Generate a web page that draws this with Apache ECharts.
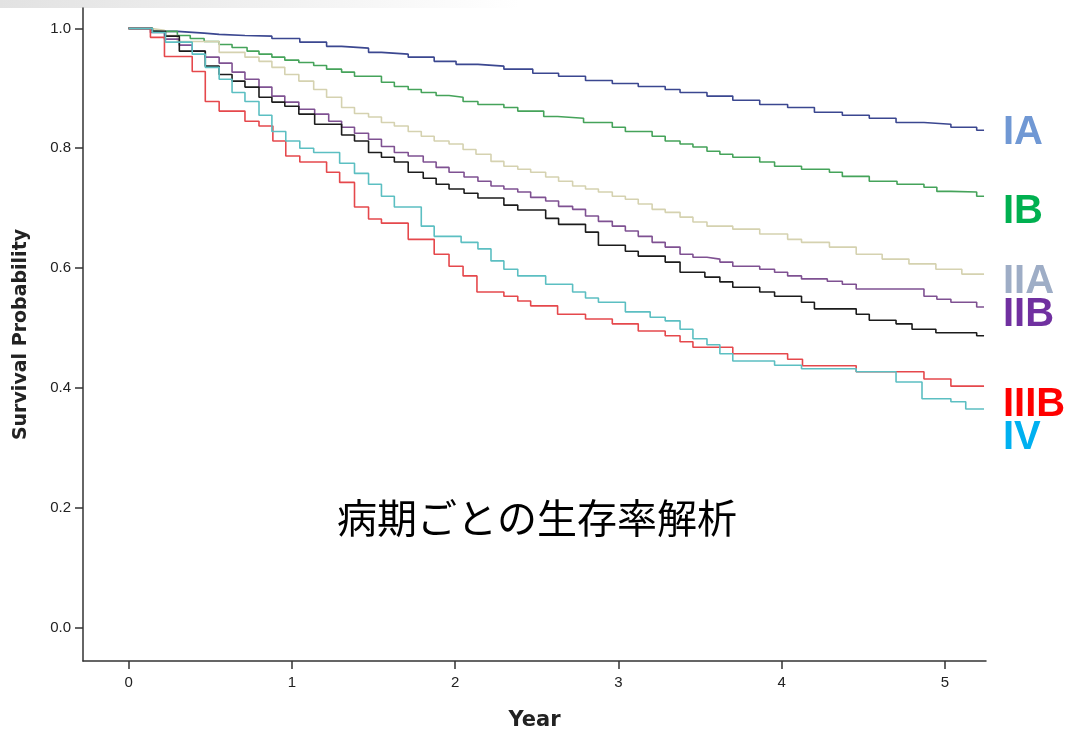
<!DOCTYPE html>
<html>
<head>
<meta charset="utf-8">
<script src="https://cdn.jsdelivr.net/npm/echarts@6/dist/echarts.min.js"></script>
<style>
  html, body { margin: 0; padding: 0; background: #fff; }
  #chart { width: 1067px; height: 736px; }
</style>
</head>
<body>
<div id="chart"></div>
<script>
// 刻度
const xTicks = [0, 1, 2, 3, 4, 5];
const yTicks = [0, 0.2, 0.4, 0.6, 0.8, 1.0];
const followUpEnd = 5.24;

// 各病期の生存曲線 [年, 生存率]
const stageIA = [[0,1],[0.146,0.995],[0.299,0.992],[0.463,0.99],[0.555,0.988],[0.713,0.987],[0.878,0.983],[1.049,0.977],[1.213,0.97],[1.305,0.967],[1.47,0.96],[1.549,0.957],[1.713,0.952],[1.872,0.945],[2.006,0.94],[2.14,0.937],[2.299,0.932],[2.476,0.925],[2.634,0.92],[2.799,0.913],[2.963,0.908],[3.122,0.903],[3.287,0.898],[3.378,0.893],[3.543,0.887],[3.701,0.88],[3.866,0.873],[4.037,0.868],[4.201,0.86],[4.372,0.855],[4.537,0.85],[4.701,0.843],[4.872,0.84],[5.037,0.835],[5.195,0.83]];
const stageIB = [[0,1],[0.146,0.995],[0.299,0.988],[0.378,0.983],[0.463,0.978],[0.555,0.973],[0.634,0.968],[0.726,0.962],[0.799,0.957],[0.878,0.952],[0.957,0.947],[1.043,0.943],[1.134,0.938],[1.213,0.932],[1.305,0.927],[1.384,0.92],[1.549,0.91],[1.628,0.903],[1.713,0.898],[1.793,0.893],[1.884,0.888],[1.963,0.885],[2.049,0.878],[2.14,0.873],[2.299,0.868],[2.384,0.862],[2.543,0.853],[2.628,0.85],[2.787,0.843],[2.963,0.835],[3.043,0.828],[3.207,0.82],[3.287,0.812],[3.378,0.807],[3.457,0.802],[3.543,0.795],[3.622,0.79],[3.701,0.785],[3.866,0.777],[3.957,0.77],[4.122,0.765],[4.293,0.76],[4.372,0.753],[4.537,0.745],[4.707,0.74],[4.872,0.735],[4.951,0.728],[5.037,0.727],[5.195,0.72]];
const stageIIA = [[0,1],[0.134,0.997],[0.22,0.988],[0.299,0.978],[0.555,0.96],[0.713,0.952],[0.799,0.945],[0.878,0.935],[0.957,0.923],[1.043,0.912],[1.134,0.898],[1.213,0.885],[1.305,0.868],[1.384,0.858],[1.47,0.852],[1.549,0.843],[1.628,0.837],[1.713,0.828],[1.793,0.82],[1.872,0.812],[1.963,0.807],[2.049,0.798],[2.128,0.79],[2.22,0.778],[2.299,0.77],[2.384,0.765],[2.463,0.76],[2.555,0.752],[2.634,0.745],[2.72,0.737],[2.799,0.732],[2.878,0.727],[2.963,0.72],[3.043,0.715],[3.122,0.707],[3.207,0.698],[3.287,0.693],[3.378,0.685],[3.457,0.677],[3.543,0.67],[3.701,0.665],[3.866,0.657],[4.037,0.648],[4.122,0.643],[4.293,0.635],[4.457,0.623],[4.616,0.615],[4.78,0.607],[4.945,0.598],[5.104,0.59]];
const stageIIB = [[0,1],[0.134,0.993],[0.22,0.982],[0.311,0.972],[0.39,0.962],[0.47,0.952],[0.555,0.942],[0.634,0.927],[0.713,0.915],[0.799,0.902],[0.878,0.887],[0.957,0.877],[1.043,0.865],[1.14,0.857],[1.226,0.845],[1.305,0.835],[1.384,0.825],[1.47,0.815],[1.549,0.803],[1.628,0.793],[1.713,0.787],[1.805,0.777],[1.884,0.768],[1.963,0.76],[2.055,0.752],[2.14,0.745],[2.22,0.737],[2.299,0.732],[2.384,0.727],[2.463,0.718],[2.555,0.712],[2.634,0.703],[2.72,0.698],[2.799,0.687],[2.878,0.678],[2.963,0.67],[3.043,0.662],[3.122,0.653],[3.207,0.643],[3.287,0.635],[3.378,0.623],[3.457,0.618],[3.543,0.615],[3.622,0.61],[3.701,0.603],[3.866,0.598],[3.957,0.593],[4.037,0.587],[4.122,0.582],[4.28,0.578],[4.372,0.573],[4.457,0.565],[4.872,0.553],[4.951,0.548],[5.037,0.543],[5.195,0.535]];
const stageIIIA = [[0,1],[0.146,0.995],[0.226,0.987],[0.311,0.962],[0.47,0.937],[0.555,0.923],[0.634,0.912],[0.713,0.902],[0.799,0.885],[0.878,0.877],[0.957,0.87],[1.043,0.857],[1.14,0.84],[1.305,0.822],[1.384,0.812],[1.47,0.793],[1.549,0.785],[1.628,0.777],[1.713,0.76],[1.805,0.75],[1.884,0.74],[1.963,0.732],[2.055,0.725],[2.14,0.717],[2.299,0.705],[2.384,0.697],[2.555,0.683],[2.634,0.673],[2.799,0.66],[2.878,0.638],[3.043,0.628],[3.122,0.62],[3.287,0.61],[3.378,0.593],[3.53,0.585],[3.622,0.577],[3.701,0.568],[3.866,0.56],[3.957,0.553],[4.122,0.543],[4.201,0.532],[4.457,0.523],[4.537,0.513],[4.701,0.507],[4.799,0.498],[4.945,0.492],[5.195,0.487]];
const stageIIIB = [[0,1],[0.134,0.985],[0.22,0.953],[0.39,0.928],[0.47,0.878],[0.555,0.862],[0.713,0.845],[0.799,0.837],[0.884,0.812],[0.963,0.787],[1.049,0.777],[1.213,0.76],[1.293,0.743],[1.384,0.702],[1.47,0.682],[1.549,0.675],[1.713,0.648],[1.872,0.623],[1.963,0.603],[2.049,0.587],[2.134,0.56],[2.299,0.553],[2.384,0.545],[2.463,0.537],[2.628,0.523],[2.799,0.515],[2.963,0.507],[3.122,0.495],[3.287,0.487],[3.378,0.477],[3.457,0.468],[3.701,0.457],[4.037,0.448],[4.128,0.437],[4.457,0.427],[4.872,0.415],[5.037,0.403]];
const stageIV = [[0,1],[0.146,0.993],[0.226,0.977],[0.39,0.957],[0.47,0.935],[0.555,0.915],[0.634,0.893],[0.713,0.878],[0.799,0.855],[0.878,0.828],[0.963,0.812],[1.049,0.8],[1.134,0.793],[1.293,0.775],[1.384,0.758],[1.47,0.74],[1.549,0.72],[1.628,0.702],[1.793,0.67],[1.872,0.653],[2.037,0.643],[2.14,0.632],[2.22,0.612],[2.299,0.598],[2.384,0.587],[2.555,0.573],[2.72,0.56],[2.799,0.55],[2.878,0.543],[3.043,0.527],[3.195,0.518],[3.287,0.512],[3.378,0.498],[3.457,0.482],[3.543,0.472],[3.622,0.457],[3.701,0.445],[3.957,0.438],[4.122,0.432],[4.457,0.427],[4.701,0.41],[4.86,0.382],[5.037,0.377],[5.128,0.365]];

// 線の色
const lineColors = {
  IA: '#3b4790',
  IB: '#45a35a',
  IIA: '#d5d2b0',
  IIB: '#7f5192',
  IIIA: '#1c1c1c',
  IIIB: '#e5484c',
  IV: '#5cbfc2'
};

// 右側ラベル
const labels = [
  { text: 'IA', color: '#7098d4', y: 133 },
  { text: 'IB', color: '#00b050', y: 212 },
  { text: 'IIA', color: '#9eadc6', y: 282 },
  { text: 'IIB', color: '#7030a0', y: 315 },
  { text: 'IIIB', color: '#ff0000', y: 405 },
  { text: 'IV', color: '#00b0f0', y: 438 }
];

const curves = [
  ['IA', stageIA], ['IB', stageIB], ['IIA', stageIIA], ['IIB', stageIIB],
  ['IIIA', stageIIIA], ['IIIB', stageIIIB], ['IV', stageIV]
];

const series = curves.map(([name, pts]) => ({
  name,
  type: 'line',
  step: 'end',
  showSymbol: false,
  silent: true,
  lineStyle: { color: lineColors[name], width: 1.6 },
  data: pts.concat([[followUpEnd, pts[pts.length - 1][1]]])
}));

const chart = echarts.init(document.getElementById('chart'));
chart.setOption({
  backgroundColor: '#fff',
  animation: false,
  grid: { left: 83, right: 81, top: 8, bottom: 75, containLabel: false, outerBoundsMode: 'none' },
  xAxis: {
    type: 'value',
    min: -0.279,
    max: 5.252,
    name: 'Year',
    nameLocation: 'middle',
    nameGap: 49,
    nameTextStyle: { fontFamily: 'DejaVu Sans', fontWeight: 'bold', fontSize: 21, color: '#222' },
    axisLine: { show: true, onZero: false, lineStyle: { color: '#333', width: 1.5 } },
    axisTick: { show: true, length: 8, customValues: xTicks, lineStyle: { color: '#333', width: 1.5 } },
    axisLabel: { customValues: xTicks, margin: 14, fontFamily: 'Liberation Sans', fontSize: 15, color: '#222' },
    splitLine: { show: false }
  },
  yAxis: {
    type: 'value',
    min: -0.0556,
    max: 1.034,
    name: 'Survival Probability',
    nameLocation: 'middle',
    nameGap: 52,
    nameTextStyle: { fontFamily: 'DejaVu Sans', fontWeight: 'bold', fontSize: 19, color: '#222' },
    axisLine: { show: true, onZero: false, lineStyle: { color: '#333', width: 1.5 } },
    axisTick: { show: true, length: 8, customValues: yTicks, lineStyle: { color: '#333', width: 1.5 } },
    axisLabel: {
      customValues: yTicks,
      margin: 12,
      fontFamily: 'Liberation Sans',
      fontSize: 15,
      color: '#222',
      formatter: (v) => v.toFixed(1)
    },
    splitLine: { show: false }
  },
  graphic: [
    {
      type: 'rect',
      left: 0, top: 0,
      shape: { width: 520, height: 8 },
      style: {
        fill: new echarts.graphic.LinearGradient(0, 0, 1, 0, [
          { offset: 0, color: '#e2e2e2' },
          { offset: 1, color: '#ffffff' }
        ])
      },
      silent: true
    },
    {
      type: 'text',
      x: 537, y: 518,
      style: {
        text: '病期ごとの生存率解析',
        font: '40px "Noto Sans CJK JP"',
        fill: '#000',
        textAlign: 'center',
        textVerticalAlign: 'middle'
      }
    }
  ].concat(labels.map((l) => ({
    type: 'text',
    x: 1003, y: l.y,
    style: {
      text: l.text,
      font: 'bold 40px "Liberation Sans"',
      fill: l.color,
      textAlign: 'left',
      textVerticalAlign: 'middle'
    }
  }))),
  series
});
</script>
</body>
</html>
